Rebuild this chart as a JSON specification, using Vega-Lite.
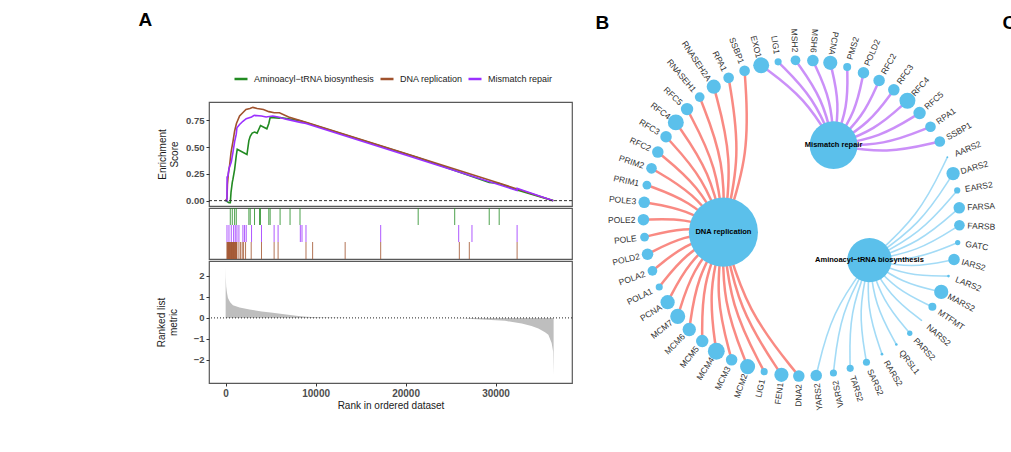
{
  "$schema": "https://vega.github.io/schema/vega-lite/v6.json",
  "background": "white",
  "padding": {"left": 138, "top": 11, "right": 0, "bottom": 0},
  "config": {
    "font": "Liberation Sans",
    "view": {"stroke": "#595959", "strokeWidth": 1.2},
    "axis": {"domain": false, "grid": false, "labelOverlap": false, "labelFontWeight": "bold", "labelColor": "#4D4D4D", "labelFontSize": 10, "tickColor": "#333333", "tickSize": 3, "titleFontWeight": "normal", "titleFontSize": 10, "titleColor": "#1a1a1a"},
    "axisY": {"labelOverlap": false, "labelSeparation": 0},
    "axisQuantitative": {"labelOverlap": false},
    "text": {"font": "Liberation Sans"}
  },
  "datasets": {
    "es": [
      {"set":"Aminoacyl−tRNA biosynthesis","rank":0,"es":0},{"set":"Aminoacyl−tRNA biosynthesis","rank":369,"es":-0.02},{"set":"Aminoacyl−tRNA biosynthesis","rank":517,"es":-0.02},{"set":"Aminoacyl−tRNA biosynthesis","rank":600,"es":0.08},{"set":"Aminoacyl−tRNA biosynthesis","rank":738,"es":0.17},{"set":"Aminoacyl−tRNA biosynthesis","rank":811,"es":0.2},{"set":"Aminoacyl−tRNA biosynthesis","rank":996,"es":0.29},{"set":"Aminoacyl−tRNA biosynthesis","rank":1181,"es":0.42},{"set":"Aminoacyl−tRNA biosynthesis","rank":1290,"es":0.48},{"set":"Aminoacyl−tRNA biosynthesis","rank":2370,"es":0.43},{"set":"Aminoacyl−tRNA biosynthesis","rank":2583,"es":0.56},{"set":"Aminoacyl−tRNA biosynthesis","rank":2731,"es":0.6},{"set":"Aminoacyl−tRNA biosynthesis","rank":2950,"es":0.63},{"set":"Aminoacyl−tRNA biosynthesis","rank":3210,"es":0.64},{"set":"Aminoacyl−tRNA biosynthesis","rank":3500,"es":0.63},{"set":"Aminoacyl−tRNA biosynthesis","rank":3764,"es":0.68},{"set":"Aminoacyl−tRNA biosynthesis","rank":3875,"es":0.7},{"set":"Aminoacyl−tRNA biosynthesis","rank":4580,"es":0.67},{"set":"Aminoacyl−tRNA biosynthesis","rank":4797,"es":0.72},{"set":"Aminoacyl−tRNA biosynthesis","rank":4945,"es":0.775},{"set":"Aminoacyl−tRNA biosynthesis","rank":5980,"es":0.77},{"set":"Aminoacyl−tRNA biosynthesis","rank":6052,"es":0.775},{"set":"Aminoacyl−tRNA biosynthesis","rank":7159,"es":0.76},{"set":"Aminoacyl−tRNA biosynthesis","rank":8266,"es":0.745},{"set":"Aminoacyl−tRNA biosynthesis","rank":21402,"es":0.4},{"set":"Aminoacyl−tRNA biosynthesis","rank":25461,"es":0.28},{"set":"Aminoacyl−tRNA biosynthesis","rank":29299,"es":0.17},{"set":"Aminoacyl−tRNA biosynthesis","rank":30406,"es":0.16},{"set":"Aminoacyl−tRNA biosynthesis","rank":32400,"es":0.1},{"set":"Aminoacyl−tRNA biosynthesis","rank":36420,"es":0},
      {"set":"DNA replication","rank":0,"es":0},{"set":"DNA replication","rank":148,"es":0.02},{"set":"DNA replication","rank":200,"es":0.15},{"set":"DNA replication","rank":300,"es":0.25},{"set":"DNA replication","rank":443,"es":0.33},{"set":"DNA replication","rank":600,"es":0.45},{"set":"DNA replication","rank":811,"es":0.55},{"set":"DNA replication","rank":1000,"es":0.65},{"set":"DNA replication","rank":1200,"es":0.72},{"set":"DNA replication","rank":1550,"es":0.79},{"set":"DNA replication","rank":1900,"es":0.82},{"set":"DNA replication","rank":2260,"es":0.85},{"set":"DNA replication","rank":2700,"es":0.86},{"set":"DNA replication","rank":3025,"es":0.87},{"set":"DNA replication","rank":3500,"es":0.86},{"set":"DNA replication","rank":4200,"es":0.85},{"set":"DNA replication","rank":4800,"es":0.83},{"set":"DNA replication","rank":5400,"es":0.82},{"set":"DNA replication","rank":5980,"es":0.82},{"set":"DNA replication","rank":7000,"es":0.78},{"set":"DNA replication","rank":8930,"es":0.73},{"set":"DNA replication","rank":20000,"es":0.44},{"set":"DNA replication","rank":30700,"es":0.155},{"set":"DNA replication","rank":36420,"es":0},
      {"set":"Mismatch repair","rank":0,"es":0},{"set":"Mismatch repair","rank":148,"es":0},{"set":"Mismatch repair","rank":160,"es":0.22},{"set":"Mismatch repair","rank":258,"es":0.23},{"set":"Mismatch repair","rank":369,"es":0.3},{"set":"Mismatch repair","rank":627,"es":0.36},{"set":"Mismatch repair","rank":811,"es":0.45},{"set":"Mismatch repair","rank":1000,"es":0.55},{"set":"Mismatch repair","rank":1180,"es":0.62},{"set":"Mismatch repair","rank":1255,"es":0.68},{"set":"Mismatch repair","rank":1550,"es":0.71},{"set":"Mismatch repair","rank":1919,"es":0.74},{"set":"Mismatch repair","rank":2288,"es":0.765},{"set":"Mismatch repair","rank":2878,"es":0.78},{"set":"Mismatch repair","rank":3180,"es":0.795},{"set":"Mismatch repair","rank":3985,"es":0.79},{"set":"Mismatch repair","rank":4500,"es":0.78},{"set":"Mismatch repair","rank":5240,"es":0.79},{"set":"Mismatch repair","rank":5830,"es":0.78},{"set":"Mismatch repair","rank":6700,"es":0.76},{"set":"Mismatch repair","rank":8303,"es":0.73},{"set":"Mismatch repair","rank":8930,"es":0.72},{"set":"Mismatch repair","rank":20000,"es":0.425},{"set":"Mismatch repair","rank":32390,"es":0.095},{"set":"Mismatch repair","rank":32400,"es":0.115},{"set":"Mismatch repair","rank":36420,"es":0}
    ],
    "hits": [
      {"set":"Aminoacyl−tRNA biosynthesis","rank":517},{"set":"Aminoacyl−tRNA biosynthesis","rank":738},{"set":"Aminoacyl−tRNA biosynthesis","rank":996},{"set":"Aminoacyl−tRNA biosynthesis","rank":1181},{"set":"Aminoacyl−tRNA biosynthesis","rank":2583},{"set":"Aminoacyl−tRNA biosynthesis","rank":2731},{"set":"Aminoacyl−tRNA biosynthesis","rank":3210},{"set":"Aminoacyl−tRNA biosynthesis","rank":3764},{"set":"Aminoacyl−tRNA biosynthesis","rank":3875},{"set":"Aminoacyl−tRNA biosynthesis","rank":4797},{"set":"Aminoacyl−tRNA biosynthesis","rank":4945},{"set":"Aminoacyl−tRNA biosynthesis","rank":6052},{"set":"Aminoacyl−tRNA biosynthesis","rank":7159},{"set":"Aminoacyl−tRNA biosynthesis","rank":8266},{"set":"Aminoacyl−tRNA biosynthesis","rank":21402},{"set":"Aminoacyl−tRNA biosynthesis","rank":25461},{"set":"Aminoacyl−tRNA biosynthesis","rank":29299},{"set":"Aminoacyl−tRNA biosynthesis","rank":30406},
      {"set":"Mismatch repair","rank":148},{"set":"Mismatch repair","rank":369},{"set":"Mismatch repair","rank":627},{"set":"Mismatch repair","rank":886},{"set":"Mismatch repair","rank":1070},{"set":"Mismatch repair","rank":1255},{"set":"Mismatch repair","rank":1476},{"set":"Mismatch repair","rank":1919},{"set":"Mismatch repair","rank":2103},{"set":"Mismatch repair","rank":2288},{"set":"Mismatch repair","rank":2878},{"set":"Mismatch repair","rank":3985},{"set":"Mismatch repair","rank":5388},{"set":"Mismatch repair","rank":5830},{"set":"Mismatch repair","rank":8303},{"set":"Mismatch repair","rank":8487},{"set":"Mismatch repair","rank":8930},{"set":"Mismatch repair","rank":17233},{"set":"Mismatch repair","rank":25904},{"set":"Mismatch repair","rank":27380},{"set":"Mismatch repair","rank":32398},
      {"set":"DNA replication","rank":148},{"set":"DNA replication","rank":190},{"set":"DNA replication","rank":240},{"set":"DNA replication","rank":285},{"set":"DNA replication","rank":330},{"set":"DNA replication","rank":375},{"set":"DNA replication","rank":420},{"set":"DNA replication","rank":465},{"set":"DNA replication","rank":520},{"set":"DNA replication","rank":565},{"set":"DNA replication","rank":610},{"set":"DNA replication","rank":655},{"set":"DNA replication","rank":700},{"set":"DNA replication","rank":745},{"set":"DNA replication","rank":790},{"set":"DNA replication","rank":835},{"set":"DNA replication","rank":880},{"set":"DNA replication","rank":925},{"set":"DNA replication","rank":970},{"set":"DNA replication","rank":1020},{"set":"DNA replication","rank":1070},{"set":"DNA replication","rank":1115},{"set":"DNA replication","rank":1160},{"set":"DNA replication","rank":1205},{"set":"DNA replication","rank":1255},{"set":"DNA replication","rank":1476},{"set":"DNA replication","rank":1661},{"set":"DNA replication","rank":1845},{"set":"DNA replication","rank":1993},{"set":"DNA replication","rank":2214},{"set":"DNA replication","rank":2841},{"set":"DNA replication","rank":3985},{"set":"DNA replication","rank":5388},{"set":"DNA replication","rank":5830},{"set":"DNA replication","rank":8930},{"set":"DNA replication","rank":9668},{"set":"DNA replication","rank":13284},{"set":"DNA replication","rank":17233},{"set":"DNA replication","rank":25977},{"set":"DNA replication","rank":27085},{"set":"DNA replication","rank":32398}
    ],
    "metric": [
      {"rank":0,"metric":2.4},{"rank":20,"metric":1.9},{"rank":60,"metric":1.5},{"rank":148,"metric":1.2},{"rank":258,"metric":0.95},{"rank":500,"metric":0.75},{"rank":811,"metric":0.6},{"rank":1550,"metric":0.5},{"rank":2657,"metric":0.4},{"rank":4000,"metric":0.31},{"rank":5240,"metric":0.25},{"rank":6500,"metric":0.17},{"rank":7823,"metric":0.1},{"rank":9000,"metric":0.06},{"rank":10775,"metric":0.02},{"rank":12500,"metric":0.005},{"rank":14000,"metric":0},{"rank":25000,"metric":0},{"rank":26500,"metric":-0.02},{"rank":27380,"metric":-0.05},{"rank":29000,"metric":-0.09},{"rank":31070,"metric":-0.14},{"rank":32915,"metric":-0.27},{"rank":34000,"metric":-0.38},{"rank":34760,"metric":-0.5},{"rank":35500,"metric":-0.68},{"rank":35870,"metric":-0.8},{"rank":36235,"metric":-1.2},{"rank":36400,"metric":-1.6},{"rank":36457,"metric":-2.7}
    ],
    "genes": [
      {"id":"M0","label":"EXO1","x":-0.255,"y":0.967,"value":1.8,"rot":75.2,"side":"L"},
      {"id":"M1","label":"LIG1","x":-0.148,"y":0.989,"value":0.8,"rot":81.5,"side":"L"},
      {"id":"M2","label":"MSH2","x":-0.038,"y":0.999,"value":1.1,"rot":87.8,"side":"L"},
      {"id":"M3","label":"MSH6","x":0.072,"y":0.997,"value":1.3,"rot":94.1,"side":"L"},
      {"id":"M4","label":"PCNA","x":0.182,"y":0.983,"value":1.6,"rot":100.5,"side":"L"},
      {"id":"M5","label":"PMS2","x":0.289,"y":0.957,"value":0.9,"rot":-73.2,"side":"R"},
      {"id":"M6","label":"POLD2","x":0.392,"y":0.92,"value":1.3,"rot":-66.9,"side":"R"},
      {"id":"M7","label":"RFC2","x":0.491,"y":0.871,"value":1.3,"rot":-60.6,"side":"R"},
      {"id":"M8","label":"RFC3","x":0.584,"y":0.812,"value":1.3,"rot":-54.3,"side":"R"},
      {"id":"M9","label":"RFC4","x":0.67,"y":0.743,"value":1.8,"rot":-48.0,"side":"R"},
      {"id":"M10","label":"RFC5","x":0.747,"y":0.665,"value":1.4,"rot":-41.6,"side":"R"},
      {"id":"M11","label":"RPA1","x":0.816,"y":0.578,"value":1.2,"rot":-35.3,"side":"R"},
      {"id":"M12","label":"SSBP1","x":0.875,"y":0.485,"value":1.2,"rot":-29.0,"side":"R"},
      {"id":"A13","label":"AARS2","x":0.923,"y":0.386,"value":0.2,"rot":-22.7,"side":"R"},
      {"id":"A14","label":"DARS2","x":0.959,"y":0.282,"value":1.5,"rot":-16.4,"side":"R"},
      {"id":"A15","label":"EARS2","x":0.985,"y":0.175,"value":0.7,"rot":-10.1,"side":"R"},
      {"id":"A16","label":"FARSA","x":0.998,"y":0.065,"value":1.3,"rot":-3.7,"side":"R"},
      {"id":"A17","label":"FARSB","x":0.999,"y":-0.045,"value":1.2,"rot":2.6,"side":"R"},
      {"id":"A18","label":"GATC","x":0.988,"y":-0.155,"value":0.6,"rot":8.9,"side":"R"},
      {"id":"A19","label":"IARS2","x":0.965,"y":-0.262,"value":1.3,"rot":15.2,"side":"R"},
      {"id":"A20","label":"LARS2","x":0.93,"y":-0.367,"value":0.3,"rot":21.5,"side":"R"},
      {"id":"A21","label":"MARS2","x":0.884,"y":-0.467,"value":1.6,"rot":27.8,"side":"R"},
      {"id":"A22","label":"MTFMT","x":0.828,"y":-0.561,"value":0.9,"rot":34.2,"side":"R"},
      {"id":"A23","label":"NARS2","x":0.761,"y":-0.649,"value":0.1,"rot":40.5,"side":"R"},
      {"id":"A24","label":"PARS2","x":0.685,"y":-0.729,"value":0.6,"rot":46.8,"side":"R"},
      {"id":"A25","label":"QRSL1","x":0.6,"y":-0.8,"value":0.3,"rot":53.1,"side":"R"},
      {"id":"A26","label":"RARS2","x":0.509,"y":-0.861,"value":0.3,"rot":59.4,"side":"R"},
      {"id":"A27","label":"SARS2","x":0.411,"y":-0.912,"value":0.8,"rot":65.7,"side":"R"},
      {"id":"A28","label":"TARS2","x":0.308,"y":-0.951,"value":0.8,"rot":72.0,"side":"R"},
      {"id":"A29","label":"VARS2","x":0.202,"y":-0.98,"value":0.8,"rot":-101.6,"side":"L"},
      {"id":"A30","label":"YARS2","x":0.093,"y":-0.996,"value":1.3,"rot":-95.3,"side":"L"},
      {"id":"D31","label":"DNA2","x":-0.017,"y":-1.0,"value":1.3,"rot":-89.0,"side":"L"},
      {"id":"D32","label":"FEN1","x":-0.127,"y":-0.992,"value":1.6,"rot":-82.7,"side":"L"},
      {"id":"D33","label":"LIG1","x":-0.236,"y":-0.972,"value":0.8,"rot":-76.4,"side":"L"},
      {"id":"D34","label":"MCM2","x":-0.341,"y":-0.94,"value":1.7,"rot":-70.1,"side":"L"},
      {"id":"D35","label":"MCM3","x":-0.442,"y":-0.897,"value":1.3,"rot":-63.7,"side":"L"},
      {"id":"D36","label":"MCM4","x":-0.539,"y":-0.843,"value":1.9,"rot":-57.4,"side":"L"},
      {"id":"D37","label":"MCM5","x":-0.628,"y":-0.778,"value":1.4,"rot":-51.1,"side":"L"},
      {"id":"D38","label":"MCM6","x":-0.71,"y":-0.705,"value":1.5,"rot":-44.8,"side":"L"},
      {"id":"D39","label":"MCM7","x":-0.783,"y":-0.622,"value":1.7,"rot":-38.5,"side":"L"},
      {"id":"D40","label":"PCNA","x":-0.847,"y":-0.532,"value":1.6,"rot":-32.2,"side":"L"},
      {"id":"D41","label":"POLA1","x":-0.9,"y":-0.436,"value":0.8,"rot":-25.8,"side":"L"},
      {"id":"D42","label":"POLA2","x":-0.943,"y":-0.334,"value":1.1,"rot":-19.5,"side":"L"},
      {"id":"D43","label":"POLD2","x":-0.974,"y":-0.229,"value":1.3,"rot":-13.2,"side":"L"},
      {"id":"D44","label":"POLE","x":-0.993,"y":-0.12,"value":1.0,"rot":-6.9,"side":"L"},
      {"id":"D45","label":"POLE2","x":-1.0,"y":-0.01,"value":1.3,"rot":-0.6,"side":"L"},
      {"id":"D46","label":"POLE3","x":-0.995,"y":0.1,"value":1.3,"rot":5.7,"side":"L"},
      {"id":"D47","label":"PRIM1","x":-0.978,"y":0.209,"value":1.0,"rot":12.1,"side":"L"},
      {"id":"D48","label":"PRIM2","x":-0.949,"y":0.315,"value":1.2,"rot":18.4,"side":"L"},
      {"id":"D49","label":"RFC2","x":-0.909,"y":0.418,"value":1.3,"rot":24.7,"side":"L"},
      {"id":"D50","label":"RFC3","x":-0.857,"y":0.515,"value":1.3,"rot":31.0,"side":"L"},
      {"id":"D51","label":"RFC4","x":-0.795,"y":0.606,"value":1.8,"rot":37.3,"side":"L"},
      {"id":"D52","label":"RFC5","x":-0.724,"y":0.69,"value":1.4,"rot":43.6,"side":"L"},
      {"id":"D53","label":"RNASEH1","x":-0.644,"y":0.766,"value":1.1,"rot":49.9,"side":"L"},
      {"id":"D54","label":"RNASEH2A","x":-0.555,"y":0.832,"value":1.6,"rot":56.3,"side":"L"},
      {"id":"D55","label":"RPA1","x":-0.461,"y":0.888,"value":1.2,"rot":62.6,"side":"L"},
      {"id":"D56","label":"SSBP1","x":-0.36,"y":0.933,"value":1.2,"rot":68.9,"side":"L"}
    ],
    "hubs": [
      {"id":"H1","label":"DNA replication","x":-0.494,"y":-0.089,"value":7.8},
      {"id":"H2","label":"Mismatch repair","x":0.203,"y":0.462,"value":5.4},
      {"id":"H3","label":"Aminoacyl−tRNA biosynthesis","x":0.43,"y":-0.266,"value":5.0}
    ],
    "edges": [
      {"e":"M0","p":"MR","k":0,"x":0.203,"y":0.462},{"e":"M0","p":"MR","k":1,"x":0.024,"y":0.76},{"e":"M0","p":"MR","k":2,"x":-0.255,"y":0.967},
      {"e":"M1","p":"MR","k":0,"x":0.203,"y":0.462},{"e":"M1","p":"MR","k":1,"x":0.08,"y":0.761},{"e":"M1","p":"MR","k":2,"x":-0.148,"y":0.989},
      {"e":"M2","p":"MR","k":0,"x":0.203,"y":0.462},{"e":"M2","p":"MR","k":1,"x":0.136,"y":0.755},{"e":"M2","p":"MR","k":2,"x":-0.038,"y":0.999},
      {"e":"M3","p":"MR","k":0,"x":0.203,"y":0.462},{"e":"M3","p":"MR","k":1,"x":0.191,"y":0.743},{"e":"M3","p":"MR","k":2,"x":0.072,"y":0.997},
      {"e":"M4","p":"MR","k":0,"x":0.203,"y":0.462},{"e":"M4","p":"MR","k":1,"x":0.244,"y":0.725},{"e":"M4","p":"MR","k":2,"x":0.182,"y":0.983},
      {"e":"M5","p":"MR","k":0,"x":0.203,"y":0.462},{"e":"M5","p":"MR","k":1,"x":0.295,"y":0.701},{"e":"M5","p":"MR","k":2,"x":0.289,"y":0.957},
      {"e":"M6","p":"MR","k":0,"x":0.203,"y":0.462},{"e":"M6","p":"MR","k":1,"x":0.343,"y":0.672},{"e":"M6","p":"MR","k":2,"x":0.392,"y":0.92},
      {"e":"M7","p":"MR","k":0,"x":0.203,"y":0.462},{"e":"M7","p":"MR","k":1,"x":0.388,"y":0.638},{"e":"M7","p":"MR","k":2,"x":0.491,"y":0.871},
      {"e":"M8","p":"MR","k":0,"x":0.203,"y":0.462},{"e":"M8","p":"MR","k":1,"x":0.428,"y":0.599},{"e":"M8","p":"MR","k":2,"x":0.584,"y":0.812},
      {"e":"M9","p":"MR","k":0,"x":0.203,"y":0.462},{"e":"M9","p":"MR","k":1,"x":0.464,"y":0.556},{"e":"M9","p":"MR","k":2,"x":0.67,"y":0.743},
      {"e":"M10","p":"MR","k":0,"x":0.203,"y":0.462},{"e":"M10","p":"MR","k":1,"x":0.495,"y":0.509},{"e":"M10","p":"MR","k":2,"x":0.747,"y":0.665},
      {"e":"M11","p":"MR","k":0,"x":0.203,"y":0.462},{"e":"M11","p":"MR","k":1,"x":0.521,"y":0.459},{"e":"M11","p":"MR","k":2,"x":0.816,"y":0.578},
      {"e":"M12","p":"MR","k":0,"x":0.203,"y":0.462},{"e":"M12","p":"MR","k":1,"x":0.541,"y":0.406},{"e":"M12","p":"MR","k":2,"x":0.875,"y":0.485},
      {"e":"A13","p":"AA","k":0,"x":0.43,"y":-0.266},{"e":"A13","p":"AA","k":1,"x":0.742,"y":0.011},{"e":"A13","p":"AA","k":2,"x":0.923,"y":0.386},
      {"e":"A14","p":"AA","k":0,"x":0.43,"y":-0.266},{"e":"A14","p":"AA","k":1,"x":0.75,"y":-0.045},{"e":"A14","p":"AA","k":2,"x":0.959,"y":0.282},
      {"e":"A15","p":"AA","k":0,"x":0.43,"y":-0.266},{"e":"A15","p":"AA","k":1,"x":0.751,"y":-0.101},{"e":"A15","p":"AA","k":2,"x":0.985,"y":0.175},
      {"e":"A16","p":"AA","k":0,"x":0.43,"y":-0.266},{"e":"A16","p":"AA","k":1,"x":0.747,"y":-0.157},{"e":"A16","p":"AA","k":2,"x":0.998,"y":0.065},
      {"e":"A17","p":"AA","k":0,"x":0.43,"y":-0.266},{"e":"A17","p":"AA","k":1,"x":0.737,"y":-0.212},{"e":"A17","p":"AA","k":2,"x":0.999,"y":-0.045},
      {"e":"A18","p":"AA","k":0,"x":0.43,"y":-0.266},{"e":"A18","p":"AA","k":1,"x":0.72,"y":-0.266},{"e":"A18","p":"AA","k":2,"x":0.988,"y":-0.155},
      {"e":"A19","p":"AA","k":0,"x":0.43,"y":-0.266},{"e":"A19","p":"AA","k":1,"x":0.698,"y":-0.318},{"e":"A19","p":"AA","k":2,"x":0.965,"y":-0.262},
      {"e":"A20","p":"AA","k":0,"x":0.43,"y":-0.266},{"e":"A20","p":"AA","k":1,"x":0.67,"y":-0.366},{"e":"A20","p":"AA","k":2,"x":0.93,"y":-0.367},
      {"e":"A21","p":"AA","k":0,"x":0.43,"y":-0.266},{"e":"A21","p":"AA","k":1,"x":0.637,"y":-0.412},{"e":"A21","p":"AA","k":2,"x":0.884,"y":-0.467},
      {"e":"A22","p":"AA","k":0,"x":0.43,"y":-0.266},{"e":"A22","p":"AA","k":1,"x":0.599,"y":-0.454},{"e":"A22","p":"AA","k":2,"x":0.828,"y":-0.561},
      {"e":"A23","p":"AA","k":0,"x":0.43,"y":-0.266},{"e":"A23","p":"AA","k":1,"x":0.557,"y":-0.491},{"e":"A23","p":"AA","k":2,"x":0.761,"y":-0.649},
      {"e":"A24","p":"AA","k":0,"x":0.43,"y":-0.266},{"e":"A24","p":"AA","k":1,"x":0.511,"y":-0.523},{"e":"A24","p":"AA","k":2,"x":0.685,"y":-0.729},
      {"e":"A25","p":"AA","k":0,"x":0.43,"y":-0.266},{"e":"A25","p":"AA","k":1,"x":0.462,"y":-0.55},{"e":"A25","p":"AA","k":2,"x":0.6,"y":-0.8},
      {"e":"A26","p":"AA","k":0,"x":0.43,"y":-0.266},{"e":"A26","p":"AA","k":1,"x":0.41,"y":-0.571},{"e":"A26","p":"AA","k":2,"x":0.509,"y":-0.861},
      {"e":"A27","p":"AA","k":0,"x":0.43,"y":-0.266},{"e":"A27","p":"AA","k":1,"x":0.356,"y":-0.587},{"e":"A27","p":"AA","k":2,"x":0.411,"y":-0.912},
      {"e":"A28","p":"AA","k":0,"x":0.43,"y":-0.266},{"e":"A28","p":"AA","k":1,"x":0.301,"y":-0.597},{"e":"A28","p":"AA","k":2,"x":0.308,"y":-0.951},
      {"e":"A29","p":"AA","k":0,"x":0.43,"y":-0.266},{"e":"A29","p":"AA","k":1,"x":0.245,"y":-0.6},{"e":"A29","p":"AA","k":2,"x":0.202,"y":-0.98},
      {"e":"A30","p":"AA","k":0,"x":0.43,"y":-0.266},{"e":"A30","p":"AA","k":1,"x":0.188,"y":-0.597},{"e":"A30","p":"AA","k":2,"x":0.093,"y":-0.996},
      {"e":"D31","p":"DR","k":0,"x":-0.494,"y":-0.089},{"e":"D31","p":"DR","k":1,"x":-0.347,"y":-0.592},{"e":"D31","p":"DR","k":2,"x":-0.017,"y":-1.0},
      {"e":"D32","p":"DR","k":0,"x":-0.494,"y":-0.089},{"e":"D32","p":"DR","k":1,"x":-0.401,"y":-0.577},{"e":"D32","p":"DR","k":2,"x":-0.127,"y":-0.992},
      {"e":"D33","p":"DR","k":0,"x":-0.494,"y":-0.089},{"e":"D33","p":"DR","k":1,"x":-0.453,"y":-0.556},{"e":"D33","p":"DR","k":2,"x":-0.236,"y":-0.972},
      {"e":"D34","p":"DR","k":0,"x":-0.494,"y":-0.089},{"e":"D34","p":"DR","k":1,"x":-0.503,"y":-0.53},{"e":"D34","p":"DR","k":2,"x":-0.341,"y":-0.94},
      {"e":"D35","p":"DR","k":0,"x":-0.494,"y":-0.089},{"e":"D35","p":"DR","k":1,"x":-0.549,"y":-0.498},{"e":"D35","p":"DR","k":2,"x":-0.442,"y":-0.897},
      {"e":"D36","p":"DR","k":0,"x":-0.494,"y":-0.089},{"e":"D36","p":"DR","k":1,"x":-0.592,"y":-0.461},{"e":"D36","p":"DR","k":2,"x":-0.539,"y":-0.843},
      {"e":"D37","p":"DR","k":0,"x":-0.494,"y":-0.089},{"e":"D37","p":"DR","k":1,"x":-0.63,"y":-0.42},{"e":"D37","p":"DR","k":2,"x":-0.628,"y":-0.778},
      {"e":"D38","p":"DR","k":0,"x":-0.494,"y":-0.089},{"e":"D38","p":"DR","k":1,"x":-0.663,"y":-0.375},{"e":"D38","p":"DR","k":2,"x":-0.71,"y":-0.705},
      {"e":"D39","p":"DR","k":0,"x":-0.494,"y":-0.089},{"e":"D39","p":"DR","k":1,"x":-0.692,"y":-0.327},{"e":"D39","p":"DR","k":2,"x":-0.783,"y":-0.622},
      {"e":"D40","p":"DR","k":0,"x":-0.494,"y":-0.089},{"e":"D40","p":"DR","k":1,"x":-0.715,"y":-0.275},{"e":"D40","p":"DR","k":2,"x":-0.847,"y":-0.532},
      {"e":"D41","p":"DR","k":0,"x":-0.494,"y":-0.089},{"e":"D41","p":"DR","k":1,"x":-0.732,"y":-0.222},{"e":"D41","p":"DR","k":2,"x":-0.9,"y":-0.436},
      {"e":"D42","p":"DR","k":0,"x":-0.494,"y":-0.089},{"e":"D42","p":"DR","k":1,"x":-0.743,"y":-0.167},{"e":"D42","p":"DR","k":2,"x":-0.943,"y":-0.334},
      {"e":"D43","p":"DR","k":0,"x":-0.494,"y":-0.089},{"e":"D43","p":"DR","k":1,"x":-0.748,"y":-0.111},{"e":"D43","p":"DR","k":2,"x":-0.974,"y":-0.229},
      {"e":"D44","p":"DR","k":0,"x":-0.494,"y":-0.089},{"e":"D44","p":"DR","k":1,"x":-0.747,"y":-0.055},{"e":"D44","p":"DR","k":2,"x":-0.993,"y":-0.12},
      {"e":"D45","p":"DR","k":0,"x":-0.494,"y":-0.089},{"e":"D45","p":"DR","k":1,"x":-0.739,"y":0.001},{"e":"D45","p":"DR","k":2,"x":-1.0,"y":-0.01},
      {"e":"D46","p":"DR","k":0,"x":-0.494,"y":-0.089},{"e":"D46","p":"DR","k":1,"x":-0.726,"y":0.056},{"e":"D46","p":"DR","k":2,"x":-0.995,"y":0.1},
      {"e":"D47","p":"DR","k":0,"x":-0.494,"y":-0.089},{"e":"D47","p":"DR","k":1,"x":-0.706,"y":0.109},{"e":"D47","p":"DR","k":2,"x":-0.978,"y":0.209},
      {"e":"D48","p":"DR","k":0,"x":-0.494,"y":-0.089},{"e":"D48","p":"DR","k":1,"x":-0.681,"y":0.159},{"e":"D48","p":"DR","k":2,"x":-0.949,"y":0.315},
      {"e":"D49","p":"DR","k":0,"x":-0.494,"y":-0.089},{"e":"D49","p":"DR","k":1,"x":-0.651,"y":0.206},{"e":"D49","p":"DR","k":2,"x":-0.909,"y":0.418},
      {"e":"D50","p":"DR","k":0,"x":-0.494,"y":-0.089},{"e":"D50","p":"DR","k":1,"x":-0.615,"y":0.25},{"e":"D50","p":"DR","k":2,"x":-0.857,"y":0.515},
      {"e":"D51","p":"DR","k":0,"x":-0.494,"y":-0.089},{"e":"D51","p":"DR","k":1,"x":-0.575,"y":0.289},{"e":"D51","p":"DR","k":2,"x":-0.795,"y":0.606},
      {"e":"D52","p":"DR","k":0,"x":-0.494,"y":-0.089},{"e":"D52","p":"DR","k":1,"x":-0.531,"y":0.324},{"e":"D52","p":"DR","k":2,"x":-0.724,"y":0.69},
      {"e":"D53","p":"DR","k":0,"x":-0.494,"y":-0.089},{"e":"D53","p":"DR","k":1,"x":-0.483,"y":0.354},{"e":"D53","p":"DR","k":2,"x":-0.644,"y":0.766},
      {"e":"D54","p":"DR","k":0,"x":-0.494,"y":-0.089},{"e":"D54","p":"DR","k":1,"x":-0.433,"y":0.378},{"e":"D54","p":"DR","k":2,"x":-0.555,"y":0.832},
      {"e":"D55","p":"DR","k":0,"x":-0.494,"y":-0.089},{"e":"D55","p":"DR","k":1,"x":-0.38,"y":0.396},{"e":"D55","p":"DR","k":2,"x":-0.461,"y":0.888},
      {"e":"D56","p":"DR","k":0,"x":-0.494,"y":-0.089},{"e":"D56","p":"DR","k":1,"x":-0.325,"y":0.409},{"e":"D56","p":"DR","k":2,"x":-0.36,"y":0.933}
    ],
    "letters": [
      {"t":"B","x":-1.259,"y":1.234},
      {"t":"C","x":1.315,"y":1.234}
    ]
  },
  "spacing": 21,
  "hconcat": [
    {
      "title": {"text": "A", "anchor": "start", "fontSize": 19, "fontWeight": "bold", "color": "#000000", "offset": 40, "dx": -17},
      "spacing": 0,
      "resolve": {"scale": {"color": "independent", "x": "shared"}, "legend": {"color": "independent"}},
      "vconcat": [
        {
          "width": 363, "height": 104,
          "layer": [
            {
              "data": {"name": "es"},
              "mark": {"type": "line", "strokeWidth": 1.6},
              "encoding": {
                "x": {"field": "rank", "type": "quantitative", "scale": {"domain": [-1850, 38500], "nice": false, "zero": false}, "axis": null},
                "y": {"field": "es", "type": "quantitative", "scale": {"domain": [-0.05, 0.92], "nice": false, "zero": false}, "axis": {"values": [0, 0.25, 0.5, 0.75], "tickCount": 4, "format": ".2f", "title": ["Enrichment", "Score"], "titlePadding": 6, "labelOverlap": false, "labelFontSize": 9.5}},
                "color": {"field": "set", "type": "nominal", "scale": {"domain": ["Aminoacyl−tRNA biosynthesis", "DNA replication", "Mismatch repair"], "range": ["#228B22", "#A0522D", "#9B30FF"]},
                  "legend": {"orient": "none", "legendX": 24, "legendY": -31, "direction": "horizontal", "title": null, "symbolType": "stroke", "symbolStrokeWidth": 2.5, "symbolSize": 169, "labelFontSize": 9, "labelColor": "#222222", "columnPadding": 0, "labelOffset": 5}}
              }
            },
            {
              "data": {"values": [{}]},
              "mark": {"type": "rule", "strokeDash": [3, 2], "color": "#333333", "strokeWidth": 1},
              "encoding": {"y": {"datum": 0, "type": "quantitative"}}
            }
          ]
        },
        {
          "width": 363, "height": 51,
          "data": {"name": "hits"},
          "mark": {"type": "tick", "thickness": 1, "size": 17, "opacity": 0.8},
          "encoding": {
            "x": {"field": "rank", "type": "quantitative", "scale": {"domain": [-1850, 38500], "nice": false, "zero": false}, "axis": null},
            "y": {"field": "set", "type": "nominal", "scale": {"domain": ["Aminoacyl−tRNA biosynthesis", "Mismatch repair", "DNA replication"], "paddingInner": 0, "paddingOuter": 0}, "axis": null},
            "color": {"field": "set", "type": "nominal", "scale": {"domain": ["Aminoacyl−tRNA biosynthesis", "DNA replication", "Mismatch repair"], "range": ["#228B22", "#A0522D", "#9B30FF"]}, "legend": null}
          }
        },
        {
          "width": 363, "height": 122,
          "layer": [
            {
              "data": {"name": "metric"},
              "mark": {"type": "area", "color": "#BEBEBE", "interpolate": "linear"},
              "encoding": {
                "x": {"field": "rank", "type": "quantitative", "scale": {"domain": [-1850, 38500], "nice": false, "zero": false}, "axis": {"values": [0, 10000, 20000, 30000], "format": "d", "title": "Rank in ordered dataset", "labelFlush": false, "titlePadding": 2}},
                "y": {"field": "metric", "type": "quantitative", "scale": {"domain": [-3.1, 2.71], "nice": false, "zero": false}, "axis": {"values": [-2, -1, 0, 1, 2], "tickCount": 5, "format": "d", "title": ["Ranked list", "metric"], "titlePadding": 15, "labelOverlap": false, "labelFontSize": 9.5}},
                "y2": {"datum": 0}
              }
            },
            {
              "data": {"values": [{}]},
              "mark": {"type": "rule", "strokeDash": [1, 2], "color": "#222222", "strokeWidth": 1},
              "encoding": {"y": {"datum": 0, "type": "quantitative"}}
            }
          ]
        }
      ]
    },
    {
      "width": 411, "height": 318,
      "view": {"stroke": null},
      "encoding": {
        "x": {"field": "x", "type": "quantitative", "scale": {"domain": [-1.3, 1.3], "nice": false, "zero": false}, "axis": null},
        "y": {"field": "y", "type": "quantitative", "scale": {"domain": [-1.278, 0.735], "nice": false, "zero": false}, "axis": null}
      },
      "layer": [
        {
          "data": {"name": "edges"},
          "transform": [{"filter": "datum.p === 'AA'"}],
          "mark": {"type": "line", "interpolate": "basis", "strokeWidth": 1.6, "opacity": 0.85},
          "encoding": {
            "detail": {"field": "e"},
            "order": {"field": "k", "type": "quantitative"},
            "color": {"field": "p", "type": "nominal", "scale": {"domain": ["AA", "DR", "MR"], "range": ["#93D5F5", "#F8766D", "#C27CF7"]}, "legend": null}
          }
        },
        {
          "data": {"name": "edges"},
          "transform": [{"filter": "datum.p !== 'AA'"}],
          "mark": {"type": "line", "interpolate": "basis", "strokeWidth": 2.5, "opacity": 0.85},
          "encoding": {
            "detail": {"field": "e"},
            "order": {"field": "k", "type": "quantitative"},
            "color": {"field": "p", "type": "nominal", "legend": null}
          }
        },
        {
          "data": {"name": "genes"},
          "mark": {"type": "circle", "color": "#5BC0EB", "opacity": 1},
          "encoding": {
            "size": {"field": "value", "type": "quantitative", "scale": {"type": "pow", "exponent": 2, "domain": [0, 8], "range": [0, 5027]}, "legend": null}
          }
        },
        {
          "data": {"name": "hubs"},
          "mark": {"type": "circle", "color": "#5BC0EB", "opacity": 1},
          "encoding": {
            "size": {"field": "value", "type": "quantitative", "legend": null}
          }
        },
        {
          "data": {"name": "genes"},
          "transform": [{"filter": "datum.side === 'R'"}],
          "mark": {"type": "text", "align": "left", "baseline": "middle", "dx": 8, "fontSize": 8.5, "color": "#333333"},
          "encoding": {
            "text": {"field": "label"},
            "angle": {"field": "rot", "type": "quantitative", "scale": null}
          }
        },
        {
          "data": {"name": "genes"},
          "transform": [{"filter": "datum.side === 'L'"}],
          "mark": {"type": "text", "align": "right", "baseline": "middle", "dx": -8, "fontSize": 8.5, "color": "#333333"},
          "encoding": {
            "text": {"field": "label"},
            "angle": {"field": "rot", "type": "quantitative", "scale": null}
          }
        },
        {
          "data": {"name": "hubs"},
          "mark": {"type": "text", "align": "center", "baseline": "middle", "fontSize": 7.5, "fontWeight": "bold", "color": "#000000"},
          "encoding": {"text": {"field": "label"}}
        },
        {
          "data": {"name": "letters"},
          "mark": {"type": "text", "align": "center", "baseline": "middle", "fontSize": 19, "fontWeight": "bold", "color": "#000000"},
          "encoding": {"text": {"field": "t"}}
        }
      ]
    }
  ]
}
